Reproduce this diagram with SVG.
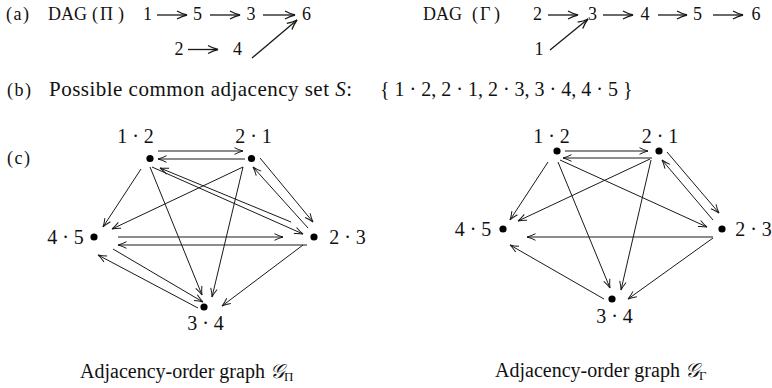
<svg xmlns="http://www.w3.org/2000/svg" width="772" height="388" viewBox="0 0 772 388" font-family="'Liberation Serif','DejaVu Serif',serif">
<style>
text{font-family:'Liberation Serif','DejaVu Serif',serif;fill:#111}
.t18{font-size:18px}
.t20{font-size:20px}
.lbl{font-size:20px;text-anchor:middle}
.e{stroke:#1a1a1a;stroke-width:1;fill:none;marker-end:url(#ah)}
.ea{stroke:#1a1a1a;stroke-width:1.3;fill:none;marker-end:url(#ah2)}
.dot{fill:#000}
</style>
<defs>
<marker id="ah" viewBox="-10 -5 12 10" refX="0" refY="0" markerWidth="12" markerHeight="10" markerUnits="userSpaceOnUse" orient="auto" overflow="visible">
<path d="M-8.5,-3.3 Q-4,-1 0,0 Q-4,1 -8.5,3.3" fill="none" stroke="#1a1a1a" stroke-width="1"/>
</marker>
<marker id="ah2" viewBox="-12 -6 14 12" refX="0" refY="0" markerWidth="14" markerHeight="12" markerUnits="userSpaceOnUse" orient="auto" overflow="visible">
<path d="M-10,-4 Q-5,-1.2 0,0 Q-5,1.2 -10,4" fill="none" stroke="#1a1a1a" stroke-width="1.3"/>
</marker>
</defs>

<!-- (a) -->
<text class="t18" x="6" y="20" letter-spacing="1.5">(a)</text>
<text class="t18" x="48" y="20">DAG <tspan x="92">(</tspan><tspan x="100">Π</tspan><tspan x="118">)</tspan></text>
<g id="pi-dag-nodes" class="t18">
<g id="pi-n1"><text x="147.5" y="20" text-anchor="middle">1</text></g>
<g id="pi-n5"><text x="197.5" y="20" text-anchor="middle">5</text></g>
<g id="pi-n3"><text x="251" y="20" text-anchor="middle">3</text></g>
<g id="pi-n6"><text x="306.5" y="20" text-anchor="middle">6</text></g>
<g id="pi-n2"><text x="179" y="55" text-anchor="middle">2</text></g>
<g id="pi-n4"><text x="237.5" y="55" text-anchor="middle">4</text></g>
</g>
<g id="pi-dag-edges">
<line class="ea" x1="157" y1="15" x2="187" y2="15"/>
<line class="ea" x1="210" y1="15" x2="240" y2="15"/>
<line class="ea" x1="263" y1="15" x2="295" y2="15"/>
<line class="ea" x1="188" y1="49.5" x2="218" y2="49.5"/>
<line class="ea" x1="252" y1="58" x2="297" y2="20"/>
</g>

<text class="t18" x="423" y="20">DAG <tspan x="472">(</tspan><tspan x="480">Γ</tspan><tspan x="494">)</tspan></text>
<g id="gamma-dag-nodes" class="t18">
<g id="ga-n2"><text x="537.5" y="20" text-anchor="middle">2</text></g>
<g id="ga-n3"><text x="592.5" y="20" text-anchor="middle">3</text></g>
<g id="ga-n4"><text x="645" y="20" text-anchor="middle">4</text></g>
<g id="ga-n5"><text x="697.5" y="20" text-anchor="middle">5</text></g>
<g id="ga-n6"><text x="756" y="20" text-anchor="middle">6</text></g>
<g id="ga-n1"><text x="539" y="55" text-anchor="middle">1</text></g>
</g>
<g id="gamma-dag-edges">
<line class="ea" x1="548" y1="15" x2="578" y2="15"/>
<line class="ea" x1="603" y1="15" x2="633" y2="15"/>
<line class="ea" x1="658" y1="15" x2="687" y2="15"/>
<line class="ea" x1="713" y1="15" x2="743" y2="15"/>
<line class="ea" x1="550" y1="50" x2="588" y2="19"/>
</g>

<!-- (b) -->
<text class="t18" x="7" y="96" letter-spacing="1.5">(b)</text>
<text x="49" y="96" font-size="21" textLength="303" lengthAdjust="spacing">Possible common adjacency set <tspan font-style="italic">S</tspan>:</text>
<text class="t20" x="380" y="96">{ 1 · 2, 2 · 1, 2 · 3, 3 · 4, 4 · 5 }</text>

<!-- (c) -->
<text class="t18" x="7" y="164" letter-spacing="1.5">(c)</text>

<!-- Graph Pi -->
<g id="gpi-edges">
<line class="e" x1="158" y1="151" x2="243" y2="151"/>
<line class="e" x1="245" y1="159" x2="158" y2="159"/>
<line class="e" x1="141" y1="169" x2="103" y2="227"/>
<line class="e" x1="243" y1="167" x2="112" y2="229"/>
<line class="e" x1="150" y1="167" x2="202" y2="295"/>
<line class="e" x1="243" y1="167" x2="212" y2="297"/>
<line class="e" x1="152" y1="167" x2="303" y2="234"/>
<line class="e" x1="291" y1="222" x2="160" y2="168"/>
<line class="e" x1="260" y1="158" x2="313" y2="222"/>
<line class="e" x1="308" y1="228" x2="253" y2="167"/>
<line class="e" x1="118" y1="237" x2="283" y2="237"/>
<line class="e" x1="307" y1="245" x2="118" y2="245"/>
<line class="e" x1="113" y1="249" x2="203" y2="302"/>
<line class="e" x1="198" y1="308" x2="98" y2="255"/>
<line class="e" x1="303" y1="245" x2="222" y2="306"/>
</g>
<g id="gpi-12"><circle class="dot" cx="150" cy="158.5" r="3.6"/><text class="lbl" x="135.5" y="143">1 · 2</text></g>
<g id="gpi-21"><circle class="dot" cx="251.5" cy="158.5" r="3.6"/><text class="lbl" x="253.5" y="143">2 · 1</text></g>
<g id="gpi-45"><circle class="dot" cx="94" cy="237" r="3.6"/><text class="lbl" x="65.5" y="244">4 · 5</text></g>
<g id="gpi-23"><circle class="dot" cx="314" cy="237" r="3.6"/><text class="lbl" x="347.5" y="244">2 · 3</text></g>
<g id="gpi-34"><circle class="dot" cx="204" cy="307" r="3.6"/><text class="lbl" x="205.5" y="330">3 · 4</text></g>
<g id="gpi-caption"><text class="t20" x="80" y="378">Adjacency-order graph <tspan font-style="italic">𝒢</tspan><tspan font-size="13" dy="3">Π</tspan></text></g>

<!-- Graph Gamma -->
<g id="gga-edges">
<line class="e" x1="565" y1="151" x2="648" y2="151"/>
<line class="e" x1="652" y1="158" x2="563" y2="158"/>
<line class="e" x1="548" y1="162" x2="510" y2="220"/>
<line class="e" x1="650" y1="159" x2="518" y2="221"/>
<line class="e" x1="558" y1="162" x2="610" y2="288"/>
<line class="e" x1="651" y1="160" x2="621" y2="290"/>
<line class="e" x1="560" y1="160" x2="707" y2="227"/>
<line class="e" x1="667" y1="152" x2="719" y2="213"/>
<line class="e" x1="713" y1="220" x2="662" y2="160"/>
<line class="e" x1="713" y1="237" x2="527" y2="237"/>
<line class="e" x1="604" y1="299" x2="510" y2="245"/>
<line class="e" x1="713" y1="238" x2="628" y2="299"/>
</g>
<g id="gga-12"><circle class="dot" cx="557" cy="151" r="3.6"/><text class="lbl" x="551.5" y="143">1 · 2</text></g>
<g id="gga-21"><circle class="dot" cx="659" cy="151" r="3.6"/><text class="lbl" x="660" y="143">2 · 1</text></g>
<g id="gga-45"><circle class="dot" cx="503" cy="229" r="3.6"/><text class="lbl" x="473" y="236">4 · 5</text></g>
<g id="gga-23"><circle class="dot" cx="722" cy="229" r="3.6"/><text class="lbl" x="753.5" y="236">2 · 3</text></g>
<g id="gga-34"><circle class="dot" cx="612" cy="299" r="3.6"/><text class="lbl" x="614.5" y="323">3 · 4</text></g>
<g id="gga-caption"><text class="t20" x="495" y="377">Adjacency-order graph <tspan font-style="italic">𝒢</tspan><tspan font-size="13" dy="3">Γ</tspan></text></g>
</svg>
